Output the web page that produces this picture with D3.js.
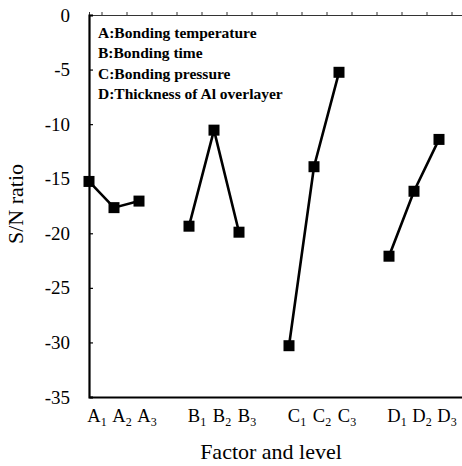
<!DOCTYPE html>
<html><head><meta charset="utf-8">
<script src="https://cdn.jsdelivr.net/npm/d3@7"></script>
<style>body{margin:0;background:#fff}</style>
</head><body>
<script>
const factors = ["A","B","C","D"];
const levels = ["1","2","3"];
const snA = [-15.25, -17.65, -17.05];
const snB = [-19.35, -10.55, -19.9];
const snC = [-30.3, -13.9, -5.25];
const snD = [-22.1, -16.15, -11.4];
const yTicks = [0, -5, -10, -15, -20, -25, -30, -35];
const legendLines = ["A:Bonding temperature","B:Bonding time","C:Bonding pressure","D:Thickness of Al overlayer"];
const series = [snA, snB, snC, snD];

const W = 462, H = 466;
const svg = d3.select("body").append("svg").attr("width", W).attr("height", H);
const serif = "'Liberation Serif','Times New Roman',serif";

const x = d3.scaleLinear().domain([0, 15]).range([89, 464]);
const y = d3.scaleLinear().domain([-35, 0]).range([397, 15]);
const pos = (f, l) => f * 4 + l;

// top axis (thin, ticks up)
svg.append("g").attr("transform", `translate(0,${y(0)})`)
  .call(d3.axisTop(x).tickValues(d3.range(0.5, 15, 1)).tickSize(3).tickFormat(""))
  .call(g => g.selectAll("path,line").attr("stroke", "#333").attr("stroke-width", 1));

// left axis
const ga = svg.append("g").attr("transform", `translate(${x(0)},0)`)
  .call(d3.axisLeft(y).tickValues(yTicks).tickSize(-4).tickPadding(19).tickFormat(d3.format("d")));
ga.select(".domain").attr("stroke", "#000").attr("stroke-width", 2.2);
ga.selectAll("line").attr("stroke", "#000").attr("stroke-width", 1.2);
ga.selectAll("text").attr("font-family", serif).attr("font-size", 19).attr("fill", "#000")
  .text(d => d === 0 ? "0" : String(d).replace("−", "-"));

// bottom axis
const gb = svg.append("g").attr("transform", `translate(0,${y(-35)})`)
  .call(d3.axisBottom(x).tickValues([]).tickSizeOuter(0));
gb.select(".domain").attr("stroke", "#000").attr("stroke-width", 2.2);

// x labels with subscripts
factors.forEach((f, fi) => {
  levels.forEach((l, li) => {
    const t = svg.append("text")
      .attr("x", x(pos(fi, li)) + 8).attr("y", 422)
      .attr("text-anchor", "middle")
      .attr("font-family", serif).attr("font-size", 18.5).attr("fill", "#000");
    t.append("tspan").text(f);
    t.append("tspan").attr("font-size", 12).attr("dy", 4).text(l);
  });
});

// lines + markers
const line = d3.line().x(d => x(d.p)).y(d => y(d.v));
series.forEach((vals, fi) => {
  const pts = vals.map((v, li) => ({p: pos(fi, li), v}));
  svg.append("path").attr("d", line(pts)).attr("fill", "none")
    .attr("stroke", "#000").attr("stroke-width", 2.6);
  svg.selectAll(null).data(pts).enter().append("rect")
    .attr("x", d => x(d.p) - 5.5).attr("y", d => y(d.v) - 5.5)
    .attr("width", 11).attr("height", 11).attr("fill", "#000");
});

// legend text
legendLines.forEach((s, i) => {
  svg.append("text").attr("x", 98).attr("y", 38 + i * 20.3)
    .attr("font-family", serif).attr("font-weight", "bold").attr("font-size", 15.5)
    .attr("fill", "#000").text(s);
});

// axis titles
svg.append("text").attr("transform", "translate(23,204) rotate(-90)")
  .attr("text-anchor", "middle").attr("font-family", serif).attr("font-size", 22)
  .attr("fill", "#000").text("S/N ratio");
svg.append("text").attr("x", 271).attr("y", 459)
  .attr("text-anchor", "middle").attr("font-family", serif).attr("font-size", 22)
  .attr("fill", "#000").text("Factor and level");
</script>
</body></html>
